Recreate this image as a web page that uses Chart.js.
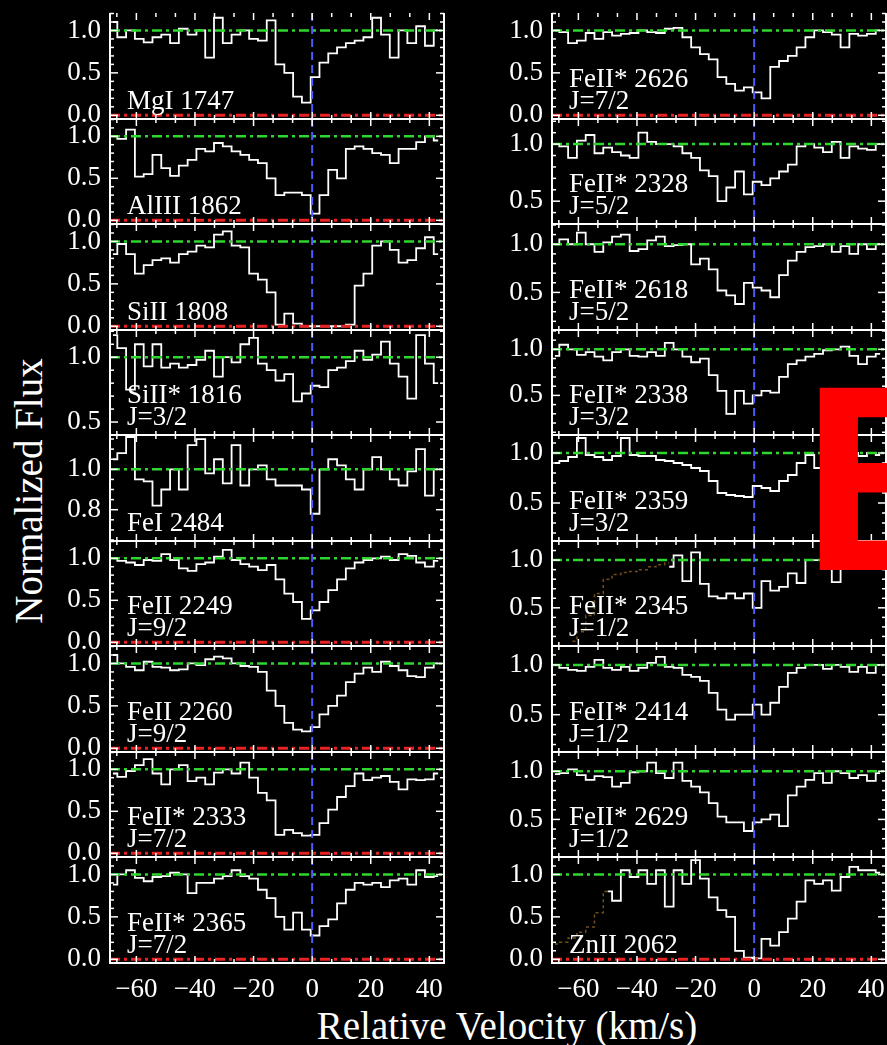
<!DOCTYPE html>
<html>
<head>
<meta charset="utf-8">
<script src="https://cdn.jsdelivr.net/npm/chart.js@4.4.1/dist/chart.umd.min.js"></script>
<style>
  html, body { margin: 0; padding: 0; background: #000; overflow: hidden; }
  body { width: 887px; height: 1045px; position: relative; }
  canvas { position: absolute; }
  .axis-title { position: absolute; color: #fff; font-family: "Liberation Serif", serif; font-size: 39px; line-height: 1; white-space: nowrap; }
  #xTitle { left: 507px; top: 1025px; transform: translate(-50%, -50%); }
  #yTitle { left: 28px; top: 491px; transform: translate(-50%, -50%) rotate(-90deg); }
  #bigE { position: absolute; left: 802px; top: 346px; color: #ff0000; font-family: "Liberation Sans", Arial, sans-serif; font-weight: bold; font-size: 265px; line-height: 1; z-index: 10; }
</style>
</head>
<body>
<div class="axis-title" id="xTitle">Relative Velocity (km/s)</div>
<div class="axis-title" id="yTitle">Normalized Flux</div>
<div id="bigE">E</div>
<script>
// velocity bins (km/s), shared by every panel
var V = [-68, -65, -62, -59, -56, -53, -50, -47, -44, -41, -38, -35, -32, -29, -26, -23, -20, -17, -14,
  -11, -8, -5, -2, 1, 4, 7, 10, 13, 16, 19, 22, 25, 28, 31, 34, 37, 40, 43];

// left column
var fluxMgI1747 = [1.1, 0.92, 1.0, 0.9, 0.86, 0.92, 0.95, 0.85, 1.02, 0.95, 1.0, 0.68, 1.15, 0.85, 0.95, 1.0, 0.9, 0.88, 1.12,
  0.6, 0.5, 0.22, 0.15, 0.45, 0.62, 0.73, 0.8, 0.85, 0.88, 0.92, 1.15, 0.95, 0.68, 1.0, 0.85, 1.05, 0.82, 1.0];
var fluxAlIII1862 = [1.0, 0.97, 1.08, 0.52, 0.55, 0.78, 0.62, 0.53, 0.65, 0.72, 0.85, 0.82, 0.92, 0.88, 0.82, 0.78, 0.72, 0.68, 0.5,
  0.3, 0.33, 0.33, 0.3, 0.08, 0.3, 0.6, 0.5, 0.85, 0.88, 0.85, 0.8, 0.78, 0.68, 0.85, 0.85, 0.93, 1.0, 0.95];
var fluxSiII1808 = [0.85, 0.97, 0.85, 0.62, 0.72, 0.78, 0.8, 0.75, 0.85, 0.88, 0.95, 0.93, 1.08, 1.12, 0.95, 0.93, 0.62, 0.55, 0.4,
  0.02, 0.15, 0.03, 0.0, 0.0, 0.0, 0.0, 0.0, 0.02, 0.48, 0.62, 0.95, 1.0, 0.9, 0.75, 0.78, 0.92, 1.05, 0.85];
var fluxSiIIs1816 = [1.17, 1.07, 0.75, 1.1, 0.93, 1.1, 0.92, 0.95, 0.92, 0.94, 0.98, 1.05, 0.85, 1.0, 0.96, 1.1, 1.15, 0.95, 0.9,
  0.82, 0.87, 0.66, 0.72, 0.78, 0.77, 0.9, 0.92, 0.97, 1.05, 0.98, 1.02, 1.12, 0.95, 0.85, 0.68, 1.17, 0.95, 0.8];
var fluxFeI2484 = [1.05, 1.08, 1.16, 0.95, 0.94, 0.82, 0.9, 1.0, 0.9, 1.12, 1.15, 0.98, 1.05, 0.93, 1.12, 0.92, 1.0, 1.02, 0.95,
  0.92, 0.92, 0.92, 0.9, 0.78, 1.0, 1.05, 1.02, 0.95, 0.9, 1.0, 1.06, 1.0, 0.95, 0.92, 0.99, 1.1, 0.87, 1.0];
var fluxFeII2249 = [1.0, 0.97, 0.95, 0.92, 0.98, 0.97, 1.05, 0.98, 0.88, 0.85, 0.93, 0.95, 1.02, 1.1, 0.98, 0.93, 0.9, 0.86, 0.92,
  0.75, 0.58, 0.48, 0.28, 0.38, 0.48, 0.62, 0.75, 0.88, 0.95, 0.98, 1.0, 1.02, 0.98, 1.05, 1.03, 0.95, 0.9, 0.97];
var fluxFeII2260 = [1.1, 1.0, 0.96, 0.92, 1.02, 0.96, 0.95, 0.92, 0.93, 1.0, 0.98, 1.05, 1.08, 1.06, 1.0, 0.97, 0.96, 0.9, 0.68,
  0.5, 0.3, 0.22, 0.2, 0.25, 0.4, 0.5, 0.62, 0.78, 0.88, 0.95, 0.9, 1.02, 0.97, 0.92, 0.85, 0.84, 0.95, 1.0];
var fluxFeIIs2333 = [0.95, 0.91, 0.98, 1.05, 1.12, 0.95, 0.82, 1.0, 1.05, 0.86, 0.9, 0.82, 0.96, 1.0, 0.95, 1.08, 0.9, 0.72, 0.63,
  0.22, 0.28, 0.24, 0.21, 0.22, 0.36, 0.52, 0.67, 0.8, 0.95, 0.87, 0.9, 0.92, 0.85, 0.76, 0.88, 0.87, 0.88, 0.95];
var fluxFeIIs2365 = [0.88, 1.0, 1.05, 0.96, 0.92, 0.97, 0.98, 1.02, 1.0, 0.78, 0.9, 0.9, 0.95, 0.98, 1.05, 0.98, 0.95, 0.82, 0.72,
  0.5, 0.35, 0.55, 0.35, 0.28, 0.39, 0.47, 0.66, 0.82, 0.9, 0.88, 0.9, 0.85, 0.93, 0.95, 0.88, 1.05, 0.97, 0.98];

// right column
var fluxFeIIs2626 = [1.0, 0.98, 0.85, 0.88, 0.97, 0.9, 0.98, 0.94, 0.96, 0.97, 1.0, 0.98, 0.97, 1.02, 1.03, 0.92, 0.8, 0.72, 0.66,
  0.45, 0.37, 0.29, 0.33, 0.27, 0.2, 0.57, 0.64, 0.7, 0.8, 0.92, 1.0, 0.98, 0.95, 0.8, 0.96, 0.94, 0.96, 1.0];
var fluxFeIIs2328 = [1.0, 0.98, 0.88, 1.03, 1.08, 0.92, 0.97, 0.93, 0.9, 0.88, 1.1, 1.02, 1.0, 1.0, 0.98, 0.92, 0.88, 0.77, 0.72,
  0.5, 0.62, 0.76, 0.56, 0.67, 0.64, 0.7, 0.76, 0.82, 0.98, 1.0, 0.97, 0.93, 1.02, 0.88, 0.98, 0.96, 0.95, 1.0];
var fluxFeIIs2618 = [1.0, 1.05, 1.0, 1.12, 1.0, 0.92, 1.02, 1.08, 1.1, 0.93, 0.95, 1.04, 1.08, 0.98, 0.99, 1.0, 0.79, 0.85, 0.74,
  0.52, 0.47, 0.38, 0.6, 0.55, 0.52, 0.45, 0.68, 0.83, 0.92, 0.97, 0.98, 1.0, 0.92, 0.98, 0.9, 1.0, 0.95, 1.0];
var fluxFeIIs2338 = [0.93, 1.05, 1.0, 0.94, 0.97, 0.92, 0.88, 0.97, 1.0, 0.93, 0.92, 0.97, 0.93, 1.07, 1.0, 0.92, 0.86, 0.9, 0.72,
  0.55, 0.3, 0.55, 0.41, 0.5, 0.55, 0.53, 0.7, 0.84, 0.88, 0.92, 0.95, 0.99, 1.0, 1.03, 0.93, 0.84, 0.92, 0.95];
var fluxFeIIs2359 = [0.9, 0.92, 0.96, 1.15, 0.98, 0.96, 0.93, 0.97, 1.15, 0.98, 0.97, 0.97, 0.93, 0.92, 0.9, 0.88, 0.85, 0.82, 0.72,
  0.6, 0.58, 0.57, 0.56, 0.67, 0.65, 0.62, 0.72, 0.78, 0.9, 0.98, 0.85, 1.0, 0.98, 0.95, 1.0, 0.97, 1.0, 0.98];
var fluxFeIIs2345 = [null, null, null, null, null, null, null, null, null, null, null, null, null, 0.93, 1.05, 0.78, 1.08, 0.75, 0.62,
  0.6, 0.65, 0.6, 0.65, 0.5, 0.78, 0.68, 0.72, 0.86, 0.76, 1.0, 1.0, 1.0, 0.77, 1.0, 1.0, 1.0, 0.98, 1.0];
var fluxFeIIs2414 = [1.0, 0.97, 0.95, 0.94, 0.98, 1.05, 0.97, 0.95, 0.98, 0.94, 0.97, 1.02, 1.08, 0.98, 0.97, 0.9, 0.88, 0.84, 0.72,
  0.55, 0.45, 0.5, 0.5, 0.6, 0.5, 0.62, 0.78, 0.92, 0.97, 1.0, 1.0, 0.96, 1.0, 0.98, 0.93, 0.98, 0.92, 1.0];
var fluxFeIIs2629 = [0.97, 0.98, 1.02, 0.96, 0.91, 0.95, 0.94, 0.84, 0.88, 0.99, 1.0, 1.09, 0.98, 0.93, 1.09, 0.9, 0.84, 0.78, 0.67,
  0.53, 0.47, 0.47, 0.38, 0.47, 0.5, 0.55, 0.43, 0.75, 0.84, 0.91, 0.98, 0.88, 1.0, 0.98, 0.93, 0.96, 0.9, 0.98];
var fluxZnII2062 = [null, null, null, null, null, null, 0.8, 0.69, 1.05, 0.97, 1.05, 0.89, 1.05, 0.62, 1.05, 0.89, 1.17, 0.95, 0.73,
  0.58, 0.5, 0.1, 0.02, 0.01, 0.24, 0.16, 0.32, 0.48, 0.68, 0.93, 0.89, 0.93, 0.81, 0.97, 1.09, 1.05, 1.05, 1.02];

// faint blended components (brown)
var blendFeIIs2345 = [null, null, 0.15, 0.25, 0.42, 0.65, 0.8, 0.85, 0.87, 0.88, 0.9, 0.93, 0.95, 0.97, null, null, null, null, null,
  null, null, null, null, null, null, null, null, null, null, null, null, null, null, null, null, null, null, null];
var blendZnII2062 = [0.18, 0.2, 0.25, 0.32, 0.38, 0.55, 0.8, null, null, null, null, null, null, null, null, null, null, null, null,
  null, null, null, null, null, null, null, null, null, null, null, null, null, null, null, null, null, null, null];

var leftNames = ["MgI 1747", "AlIII 1862", "SiII 1808", "SiII* 1816", "FeI 2484", "FeII 2249", "FeII 2260", "FeII* 2333", "FeII* 2365"];
var leftJ = ["", "", "", "J=3/2", "", "J=9/2", "J=9/2", "J=7/2", "J=7/2"];
var rightNames = ["FeII* 2626", "FeII* 2328", "FeII* 2618", "FeII* 2338", "FeII* 2359", "FeII* 2345", "FeII* 2414", "FeII* 2629", "ZnII 2062"];
var rightJ = ["J=7/2", "J=5/2", "J=5/2", "J=3/2", "J=3/2", "J=1/2", "J=1/2", "J=1/2", ""];

var leftYMin = [-0.044, -0.044, -0.044, 0.40, 0.645, -0.044, -0.044, -0.044, -0.044];
var leftYMax = [1.206, 1.206, 1.206, 1.21, 1.17, 1.206, 1.206, 1.206, 1.206];
var rightYMin = [-0.044, 0.30, 0.11, 0.07, 0.12, 0.10, 0.125, 0.11, -0.044];
var rightYMax = [1.206, 1.22, 1.21, 1.21, 1.18, 1.20, 1.19, 1.20, 1.206];

var leftYTicks = [[0, 0.5, 1], [0, 0.5, 1], [0, 0.5, 1], [0.5, 1], [0.8, 1], [0, 0.5, 1], [0, 0.5, 1], [0, 0.5, 1], [0, 0.5, 1]];
var rightYTicks = [[0, 0.5, 1], [0.5, 1], [0.5, 1], [0.5, 1], [0.5, 1], [0.5, 1], [0.5, 1], [0.5, 1], [0, 0.5, 1]];

var xTicks = [-60, -40, -20, 0, 20, 40];
var X_MIN = -69, X_MAX = 45;

var leftFlux = [fluxMgI1747, fluxAlIII1862, fluxSiII1808, fluxSiIIs1816, fluxFeI2484, fluxFeII2249, fluxFeII2260, fluxFeIIs2333, fluxFeIIs2365];
var rightFlux = [fluxFeIIs2626, fluxFeIIs2328, fluxFeIIs2618, fluxFeIIs2338, fluxFeIIs2359, fluxFeIIs2345, fluxFeIIs2414, fluxFeIIs2629, fluxZnII2062];
var rightBlend = [null, null, null, null, null, blendFeIIs2345, null, null, blendZnII2062];

var FONT = "Liberation Serif";
var PANEL_TOP = 13, PANEL_H = 105.5, AXIS_W = 110, PAD = 16;

function toPoints(arr) {
  return V.map(function (v, k) { return { x: v, y: arr[k] }; });
}

function hline(ctx, x0, x1, y) { ctx.beginPath(); ctx.moveTo(x0, y); ctx.lineTo(x1, y); ctx.stroke(); }
function vline(ctx, x, y0, y1) { ctx.beginPath(); ctx.moveTo(x, y0); ctx.lineTo(x, y1); ctx.stroke(); }

var panelFrame = {
  id: "panelFrame",
  afterDatasetsDraw: function (chart, args, o) {
    var ctx = chart.ctx, a = chart.chartArea, xs = chart.scales.x, ys = chart.scales.y;
    ctx.save();
    ctx.beginPath();
    ctx.rect(a.left, a.top, a.right - a.left, a.bottom - a.top);
    ctx.clip();
    // continuum (green) and zero level (red), dash-dot
    ctx.lineWidth = 2.5;
    ctx.setLineDash([10, 4, 3, 4]);
    ctx.strokeStyle = "#2fd62f";
    hline(ctx, a.left, a.right, ys.getPixelForValue(1));
    if (ys.min < 0) {
      ctx.lineWidth = 3;
      ctx.strokeStyle = "#e82222";
      hline(ctx, a.left, a.right, ys.getPixelForValue(0));
    }
    // v = 0
    ctx.lineWidth = 2;
    ctx.setLineDash([8, 5]);
    ctx.strokeStyle = "#4b5bff";
    vline(ctx, xs.getPixelForValue(0), a.top, a.bottom);
    ctx.restore();

    // box + ticks
    ctx.save();
    ctx.strokeStyle = "#ffffff";
    ctx.lineWidth = 2;
    ctx.setLineDash([]);
    if (!o.first) hline(ctx, a.left - 1, a.right + 1, a.top);
    hline(ctx, a.left - 1, a.right + 1, a.bottom);
    vline(ctx, a.left, a.top, a.bottom);
    vline(ctx, a.right, a.top, a.bottom);

    ctx.lineWidth = 1.5;
    var t, px;
    for (t = -80; t <= X_MAX; t += 20 / 3) {
      if (t < X_MIN) continue;
      px = xs.getPixelForValue(t);
      var major = Math.abs(Math.round(t) - t) < 0.01 && Math.round(t) % 20 === 0;
      var len = major ? 7 : 4;
      vline(ctx, px, a.bottom, a.bottom - len);
      vline(ctx, px, a.top, a.top + len);
    }
    var k0 = Math.ceil(ys.min / o.yMinor - 1e-6), k1 = Math.floor(ys.max / o.yMinor + 1e-6);
    for (var k = k0; k <= k1; k++) {
      var yv = k * o.yMinor;
      var py = ys.getPixelForValue(yv);
      var isMaj = Math.abs(yv / o.yMajor - Math.round(yv / o.yMajor)) < 1e-6;
      var l2 = isMaj ? 8 : 4;
      hline(ctx, a.left, a.left + l2, py);
      hline(ctx, a.right, a.right - l2, py);
    }

    // ion label
    ctx.fillStyle = "#ffffff";
    ctx.font = "27px \"" + FONT + "\"";
    ctx.textAlign = "left";
    ctx.textBaseline = "alphabetic";
    if (o.jLabel) {
      ctx.fillText(o.name, a.left + 17, a.bottom - 32);
      ctx.fillText(o.jLabel, a.left + 17, a.bottom - 10);
    } else {
      ctx.fillText(o.name, a.left + 17, a.bottom - 10);
    }
    ctx.restore();
  }
};

function makePanel(col, i) {
  var names = col === 0 ? leftNames : rightNames;
  var js = col === 0 ? leftJ : rightJ;
  var ymin = col === 0 ? leftYMin[i] : rightYMin[i];
  var ymax = col === 0 ? leftYMax[i] : rightYMax[i];
  var yt = col === 0 ? leftYTicks[i] : rightYTicks[i];
  var flux = col === 0 ? leftFlux[i] : rightFlux[i];
  var blend = col === 0 ? null : rightBlend[i];
  var isBottom = i === 8;
  var isFeI = col === 0 && i === 4;

  var top = Math.round(PANEL_TOP + i * PANEL_H);
  var bottom = Math.round(PANEL_TOP + (i + 1) * PANEL_H);
  var h = bottom - top;

  var canvas = document.createElement("canvas");
  var w = 447;
  var ch = PAD + h + (isBottom ? 50 : PAD);
  canvas.width = w;
  canvas.height = ch;
  canvas.style.width = w + "px";
  canvas.style.height = ch + "px";
  canvas.style.left = (col === 0 ? -1 : 441) + "px";
  canvas.style.top = (top - PAD) + "px";
  document.body.appendChild(canvas);

  var datasets = [];
  if (blend) {
    datasets.push({
      data: toPoints(blend),
      borderColor: "rgba(150, 105, 35, 0.75)",
      borderWidth: 1.5,
      borderDash: [3, 3],
      pointRadius: 0,
      stepped: "middle",
      spanGaps: false
    });
  }
  datasets.push({
    data: toPoints(flux),
    borderColor: "#ffffff",
    borderWidth: 1.8,
    pointRadius: 0,
    stepped: "middle",
    spanGaps: false
  });

  return new Chart(canvas, {
    type: "line",
    data: { datasets: datasets },
    options: {
      responsive: false,
      animation: false,
      devicePixelRatio: 1,
      events: [],
      layout: { padding: { top: PAD, right: 2, bottom: isBottom ? 0 : PAD, left: 0 } },
      plugins: {
        legend: { display: false },
        tooltip: { enabled: false },
        panelFrame: {
          first: i === 0,
          name: names[i],
          jLabel: js[i],
          yMajor: isFeI ? 0.2 : 0.5,
          yMinor: isFeI ? 0.05 : 0.1
        }
      },
      scales: {
        x: {
          type: "linear",
          min: X_MIN,
          max: X_MAX,
          display: isBottom,
          grid: { display: false, drawTicks: false },
          border: { display: false },
          afterBuildTicks: function (s) { s.ticks = xTicks.map(function (v) { return { value: v }; }); },
          ticks: {
            color: "#ffffff",
            font: { family: FONT, size: 27 },
            padding: 11,
            autoSkip: false,
            maxRotation: 0,
            callback: function (v) { return v < 0 ? "\u2212" + (-v) : String(v); }
          },
          afterFit: function (s) {
            s.height = isBottom ? 50 : 0;
            s.paddingLeft = 0;
            s.paddingRight = 0;
          }
        },
        y: {
          type: "linear",
          min: ymin,
          max: ymax,
          grid: { display: false, drawTicks: false },
          border: { display: false },
          afterBuildTicks: function (s) { s.ticks = yt.map(function (v) { return { value: v }; }); },
          ticks: {
            color: "#ffffff",
            font: { family: FONT, size: 27 },
            padding: 9,
            autoSkip: false,
            callback: function (v) { return Number(v).toFixed(1); }
          },
          afterFit: function (s) { s.width = AXIS_W + 1; s.paddingTop = 0; s.paddingBottom = 0; }
        }
      }
    },
    plugins: [panelFrame]
  });
}

for (var c = 0; c < 2; c++) {
  for (var p = 0; p < 9; p++) makePanel(c, p);
}
</script>
</body>
</html>
